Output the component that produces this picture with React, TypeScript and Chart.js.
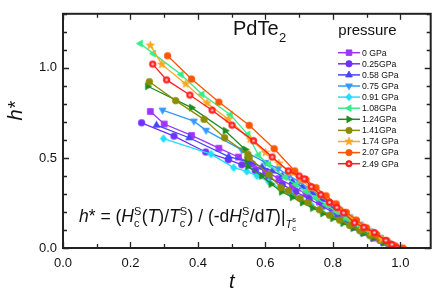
import React, { useEffect, useRef } from 'react';
import { Chart, registerables } from 'chart.js';

Chart.register(...registerables);

const FONT = '"Liberation Sans", Arial, Helvetica, sans-serif';

// ---- data ----
const pressures = ['0 GPa', '0.25GPa', '0.58 GPa', '0.75 GPa', '0.91 GPa', '1.08GPa', '1.24GPa', '1.41GPa', '1.74 GPa', '2.07 GPa', '2.49 GPa'];
const seriesColors = ['#A033FF', '#7030FF', '#4444FF', '#3399FF', '#22DDFF', '#33EE88', '#1E8C1E', '#8C8C00', '#FFA520', '#FF5500', '#FF2020'];
const seriesMarkers = ['square', 'circle', 'triUp', 'triDown', 'diamond', 'triLeft', 'triRight', 'circle', 'star', 'circle', 'ring'];

const t_0 = [0.259, 0.300, 0.381, 0.462, 0.52, 0.56, 0.60, 0.64, 0.68, 0.72, 0.76, 0.80, 0.835, 0.865, 0.89, 0.92, 0.95, 0.975];
const h_0 = [0.758, 0.688, 0.625, 0.554, 0.505, 0.465, 0.425, 0.385, 0.345, 0.300, 0.255, 0.205, 0.160, 0.115, 0.085, 0.055, 0.030, 0.008];
const t_025 = [0.233, 0.329, 0.423, 0.49, 0.53, 0.57, 0.61, 0.65, 0.69, 0.73, 0.77, 0.81, 0.85, 0.88, 0.91, 0.94, 0.965, 0.985];
const h_025 = [0.695, 0.621, 0.533, 0.490, 0.462, 0.430, 0.392, 0.352, 0.312, 0.272, 0.232, 0.185, 0.140, 0.105, 0.075, 0.045, 0.022, 0.005];
const t_058 = [0.277, 0.374, 0.491, 0.55, 0.59, 0.62, 0.65, 0.68, 0.71, 0.74, 0.77, 0.80, 0.83, 0.86, 0.89, 0.92, 0.95, 0.975];
const h_058 = [0.682, 0.612, 0.507, 0.478, 0.450, 0.428, 0.400, 0.370, 0.340, 0.305, 0.270, 0.232, 0.192, 0.152, 0.112, 0.075, 0.040, 0.012];
const t_075 = [0.295, 0.388, 0.424, 0.53, 0.60, 0.638, 0.67, 0.70, 0.73, 0.76, 0.79, 0.82, 0.85, 0.88, 0.91, 0.94, 0.965, 0.985];
const h_075 = [0.765, 0.704, 0.653, 0.545, 0.475, 0.440, 0.402, 0.368, 0.330, 0.292, 0.252, 0.212, 0.172, 0.132, 0.094, 0.058, 0.028, 0.006];
const t_091 = [0.298, 0.439, 0.506, 0.545, 0.575, 0.61, 0.645, 0.675, 0.705, 0.735, 0.765, 0.795, 0.825, 0.855, 0.885, 0.915, 0.945, 0.97];
const h_091 = [0.607, 0.521, 0.446, 0.425, 0.400, 0.368, 0.330, 0.300, 0.270, 0.240, 0.210, 0.180, 0.152, 0.122, 0.094, 0.066, 0.038, 0.012];
const t_108 = [0.229, 0.268, 0.350, 0.412, 0.496, 0.548, 0.579, 0.609, 0.658, 0.69, 0.72, 0.75, 0.78, 0.81, 0.84, 0.87, 0.90, 0.93, 0.955, 0.98];
const h_108 = [1.135, 1.079, 0.963, 0.853, 0.740, 0.630, 0.516, 0.463, 0.393, 0.352, 0.315, 0.278, 0.240, 0.202, 0.165, 0.128, 0.092, 0.060, 0.032, 0.008];
const t_124 = [0.251, 0.381, 0.481, 0.540, 0.545, 0.548, 0.589, 0.617, 0.648, 0.68, 0.71, 0.74, 0.77, 0.80, 0.83, 0.86, 0.89, 0.92, 0.95, 0.975];
const h_124 = [0.898, 0.779, 0.651, 0.547, 0.490, 0.454, 0.400, 0.355, 0.312, 0.282, 0.252, 0.222, 0.192, 0.165, 0.138, 0.110, 0.082, 0.056, 0.030, 0.008];
const t_141 = [0.256, 0.334, 0.418, 0.479, 0.548, 0.552, 0.611, 0.646, 0.668, 0.702, 0.726, 0.76, 0.79, 0.82, 0.85, 0.88, 0.91, 0.94, 0.97];
const h_141 = [0.923, 0.818, 0.714, 0.612, 0.521, 0.502, 0.407, 0.335, 0.318, 0.276, 0.252, 0.212, 0.182, 0.155, 0.125, 0.096, 0.068, 0.042, 0.015];
const t_174 = [0.259, 0.293, 0.364, 0.427, 0.49, 0.555, 0.60, 0.64, 0.675, 0.705, 0.735, 0.765, 0.795, 0.825, 0.855, 0.885, 0.915, 0.945, 0.975];
const h_174 = [1.125, 1.019, 0.911, 0.805, 0.715, 0.604, 0.530, 0.470, 0.420, 0.378, 0.335, 0.292, 0.250, 0.208, 0.165, 0.125, 0.088, 0.050, 0.015];
const t_207 = [0.310, 0.381, 0.462, 0.552, 0.626, 0.687, 0.72, 0.75, 0.78, 0.81, 0.84, 0.87, 0.90, 0.93, 0.96, 0.985, 1.008];
const h_207 = [1.067, 0.938, 0.810, 0.681, 0.551, 0.428, 0.380, 0.335, 0.290, 0.245, 0.198, 0.155, 0.112, 0.075, 0.040, 0.012, 0.0];
const t_249 = [0.266, 0.307, 0.376, 0.442, 0.501, 0.565, 0.620, 0.668, 0.700, 0.715, 0.736, 0.764, 0.790, 0.812, 0.832, 0.864, 0.892, 0.923, 0.957, 0.975, 0.990];
const h_249 = [1.021, 0.933, 0.849, 0.765, 0.682, 0.595, 0.505, 0.428, 0.400, 0.384, 0.340, 0.296, 0.253, 0.225, 0.195, 0.140, 0.115, 0.086, 0.042, 0.020, 0.0];

const seriesT = [t_0, t_025, t_058, t_075, t_091, t_108, t_124, t_141, t_174, t_207, t_249];
const seriesH = [h_0, h_025, h_058, h_075, h_091, h_108, h_124, h_141, h_174, h_207, h_249];

const xTickValues = [0, 0.2, 0.4, 0.6, 0.8, 1.0];
const yTickValues = [0, 0.5, 1.0];
const xMinorStep = 0.1;
const yMinorStep = 0.1;
const X_MIN = 0, X_MAX = 1.09, Y_MIN = 0, Y_MAX = 1.3;

// ---- marker drawing ----
function drawMarker(ctx: CanvasRenderingContext2D, shape: string, cx: number, cy: number, r: number, color: string) {
  ctx.save();
  ctx.fillStyle = color;
  ctx.strokeStyle = color;
  ctx.lineWidth = 0.8;
  ctx.beginPath();
  const poly = (pts: number[][], ang: number) => {
    const c = Math.cos(ang), s = Math.sin(ang);
    pts.forEach(([px, py], i) => {
      const X = cx + r * (px * c - py * s);
      const Y = cy + r * (px * s + py * c);
      if (i === 0) ctx.moveTo(X, Y); else ctx.lineTo(X, Y);
    });
    ctx.closePath();
  };
  const tri = [[0, -1.2], [1.05, 0.65], [-1.05, 0.65]];
  switch (shape) {
    case 'square':
      ctx.rect(cx - r * 0.88, cy - r * 0.88, r * 1.76, r * 1.76);
      break;
    case 'circle':
    case 'ring':
      ctx.arc(cx, cy, r, 0, Math.PI * 2);
      break;
    case 'triUp': poly(tri, 0); break;
    case 'triDown': poly(tri, Math.PI); break;
    case 'triLeft': poly(tri, -Math.PI / 2); break;
    case 'triRight': poly(tri, Math.PI / 2); break;
    case 'diamond': poly([[0, -1.15], [1.0, 0], [0, 1.15], [-1.0, 0]], 0); break;
    case 'star': {
      const pts: number[][] = [];
      for (let k = 0; k < 10; k++) {
        const rad = k % 2 === 0 ? 1.3 : 0.55;
        const a = -Math.PI / 2 + (k * Math.PI) / 5;
        pts.push([rad * Math.cos(a), rad * Math.sin(a)]);
      }
      poly(pts, 0);
      break;
    }
  }
  ctx.fill();
  ctx.stroke();
  if (shape === 'ring') {
    ctx.beginPath();
    ctx.fillStyle = '#FFC8C8';
    ctx.arc(cx, cy, r * 0.4, 0, Math.PI * 2);
    ctx.fill();
  }
  ctx.restore();
}

function makeMarkerCanvas(shape: string, color: string): HTMLCanvasElement {
  const c = document.createElement('canvas');
  c.width = 11;
  c.height = 11;
  const ctx = c.getContext('2d') as CanvasRenderingContext2D;
  drawMarker(ctx, shape, 5.5, 5.5, 3.3, color);
  return c;
}

const decorPlugin = {
  id: 'decor',
  afterDraw(chart: any) {
    const ctx: CanvasRenderingContext2D = chart.ctx;
    const { left, right, top, bottom } = chart.chartArea;
    const xs = chart.scales.x;
    const ys = chart.scales.y;
    ctx.save();
    // frame
    ctx.strokeStyle = '#222';
    ctx.lineWidth = 2;
    ctx.strokeRect(left, top, right - left, bottom - top);
    // ticks (inward, mirrored)
    ctx.lineWidth = 1.3;
    ctx.beginPath();
    for (let v = X_MIN; v <= X_MAX + 1e-9; v += xMinorStep) {
      const vv = Math.round(v * 1000) / 1000;
      const major = xTickValues.some((m) => Math.abs(m - vv) < 1e-6);
      const len = major ? 6 : 4;
      const px = Math.round(xs.getPixelForValue(vv)) + 0.5;
      ctx.moveTo(px, bottom); ctx.lineTo(px, bottom - len);
      ctx.moveTo(px, top); ctx.lineTo(px, top + len);
    }
    for (let v = Y_MIN; v <= Y_MAX + 1e-9; v += yMinorStep) {
      const vv = Math.round(v * 1000) / 1000;
      const major = yTickValues.some((m) => Math.abs(m - vv) < 1e-6);
      const len = major ? 6 : 4;
      const py = Math.round(ys.getPixelForValue(vv)) + 0.5;
      ctx.moveTo(left, py); ctx.lineTo(left + len, py);
      ctx.moveTo(right, py); ctx.lineTo(right - len, py);
    }
    ctx.stroke();

    ctx.fillStyle = '#111';
    ctx.textBaseline = 'alphabetic';
    // axis titles
    ctx.font = `italic 20px ${FONT}`;
    ctx.textAlign = 'center';
    ctx.fillText('t', xs.getPixelForValue(0.5), 288);
    ctx.save();
    ctx.translate(22, 111);
    ctx.rotate(-Math.PI / 2);
    ctx.fillText('h*', 0, 0);
    ctx.restore();

    // title PdTe2
    ctx.textAlign = 'left';
    ctx.font = `20px ${FONT}`;
    ctx.fillText('PdTe', 233, 35);
    const wT = ctx.measureText('PdTe').width;
    ctx.font = `13px ${FONT}`;
    ctx.fillText('2', 233 + wT + 0.5, 42);

    // legend
    ctx.font = `15px ${FONT}`;
    ctx.textAlign = 'center';
    ctx.fillText('pressure', 367.5, 35);
    ctx.textAlign = 'left';
    ctx.font = `8.7px ${FONT}`;
    ctx.textBaseline = 'middle';
    pressures.forEach((p, i) => {
      const y = 52.7 + i * 11.1;
      ctx.strokeStyle = seriesColors[i];
      ctx.lineWidth = 1.5;
      ctx.beginPath();
      ctx.moveTo(338, y);
      ctx.lineTo(360, y);
      ctx.stroke();
      drawMarker(ctx, seriesMarkers[i], 349, y, 3.2, seriesColors[i]);
      ctx.fillStyle = '#111';
      ctx.fillText(p, 362, y + 0.5);
    });

    // formula
    ctx.textBaseline = 'alphabetic';
    ctx.fillStyle = '#111';
    const S = 17.5;
    const base = 222;
    let x = 79;
    const put = (text: string, italic = false, size = S, dy = 0, advance = true) => {
      ctx.font = `${italic ? 'italic ' : ''}${size}px ${FONT}`;
      ctx.fillText(text, x, base + dy);
      const w = ctx.measureText(text).width;
      if (advance) x += w;
      return w;
    };
    const stack = (sub: string, sup: string, size: number, subDy: number, supDy: number) => {
      const w1 = put(sub, false, size, subDy, false);
      const w2 = put(sup, false, size, supDy, false);
      x += Math.max(w1, w2) + 0.5;
    };
    put('h', true);
    put('* = (');
    put('H', true);
    stack('c', 'S', 11, 5, -7.5);
    put('(');
    put('T', true);
    put(')/');
    put('T', true);
    stack('c', 'S', 11, 5, -7.5);
    put(') / (-d');
    put('H', true);
    stack('c', 'S', 11, 5, -7.5);
    put('/d');
    put('T', true);
    put(')|');
    put('T', true, 11, 5.5);
    stack('c', 's', 7.5, 8.5, 0);
    ctx.restore();
  },
};

export default function App() {
  const ref = useRef<HTMLCanvasElement | null>(null);
  useEffect(() => {
    if (!ref.current) return;
    const n = pressures.length;
    const datasets = pressures.map((label, i) => ({
      label,
      data: seriesT[i].map((tv, k) => ({ x: tv, y: seriesH[i][k] })),
      borderColor: seriesColors[i],
      backgroundColor: seriesColors[i],
      borderWidth: 1.3,
      pointStyle: makeMarkerCanvas(seriesMarkers[i], seriesColors[i]) as any,
      pointRadius: 3.5,
      showLine: true,
      tension: 0,
      order: n - 1 - i,
    }));
    const chart = new Chart(ref.current, {
      type: 'scatter',
      data: { datasets },
      options: {
        animation: false,
        responsive: false,
        devicePixelRatio: 1,
        layout: { padding: { left: 0, top: 1, right: 4, bottom: 0 } },
        plugins: { legend: { display: false }, tooltip: { enabled: false } },
        scales: {
          x: {
            type: 'linear',
            min: X_MIN,
            max: X_MAX,
            grid: { display: false, drawTicks: false },
            border: { display: false },
            ticks: {
              color: '#111',
              font: { family: FONT, size: 13 },
              padding: 8,
              callback: (v: any) => Number(v).toFixed(1),
            },
            afterBuildTicks: (s: any) => { s.ticks = xTickValues.map((v) => ({ value: v })); },
            afterFit: (s: any) => { s.height = 47; },
          },
          y: {
            type: 'linear',
            min: Y_MIN,
            max: Y_MAX,
            grid: { display: false, drawTicks: false },
            border: { display: false },
            ticks: {
              color: '#111',
              font: { family: FONT, size: 13 },
              padding: 6,
              callback: (v: any) => Number(v).toFixed(1),
            },
            afterBuildTicks: (s: any) => { s.ticks = yTickValues.map((v) => ({ value: v })); },
            afterFit: (s: any) => { s.width = 63; },
          },
        },
      },
      plugins: [decorPlugin],
    });
    return () => chart.destroy();
  }, []);
  return (
    <div style={{ position: 'fixed', left: 0, top: 0, width: 436, height: 295, background: '#fff' }}>
      <canvas ref={ref} width={436} height={295} style={{ display: 'block', width: 436, height: 295 }} />
    </div>
  );
}
